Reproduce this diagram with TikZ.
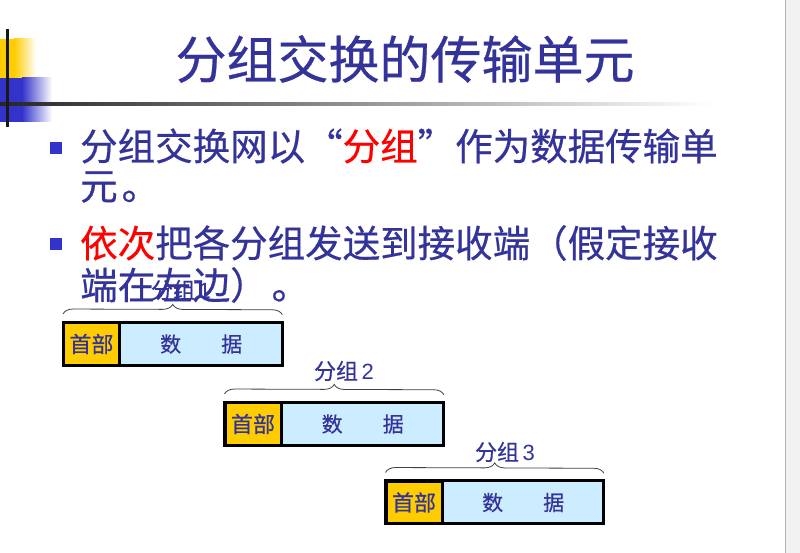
\documentclass[tikz,border=0pt]{standalone}
\usepackage{fontspec}
\setmainfont[FakeBold=0.4]{Noto Sans CJK SC}
\newfontfamily\fwfont[CharacterWidth=Full,FakeBold=0.5]{Noto Sans CJK SC}
\newfontfamily\digfont{Liberation Sans}
\usetikzlibrary{decorations.pathreplacing}
\definecolor{tblue}{HTML}{333399}
\definecolor{bsq}{HTML}{3333CC}
\definecolor{hyel}{HTML}{FFCC00}
\definecolor{dblue}{HTML}{CCECFF}
\begin{document}
\begin{tikzpicture}[x=1pt,y=-1pt,
  titletext/.style={text=tblue, font=\fwfont\fontsize{51}{55}\selectfont, inner sep=0pt},
  bodytext/.style={text=tblue, font=\fwfont\fontsize{37.5}{41}\selectfont, anchor=west, inner sep=0pt},
  bulletsq/.style={fill=bsq, minimum size=12pt, inner sep=0pt},
  hdrbox/.style={draw=black, line width=2pt, fill=hyel, text=tblue, minimum width=55pt, minimum height=42pt, inner sep=0pt, font=\fontsize{22}{24}\selectfont},
  datbox/.style={fill=dblue, text=tblue, minimum height=42pt, inner sep=0pt, font=\fontsize{21}{23}\selectfont, anchor=west},
  pframe/.style={draw=black, line width=3pt},
  pbrace/.style={draw=black!75, line width=0.8pt, decorate, decoration={brace, amplitude=10pt}},
  plabel/.style={text=tblue, font=\fontsize{22}{24}\selectfont, inner sep=0pt}
]
\useasboundingbox (0,0) rectangle (800,553);
\fill[white] (0,0) rectangle (800,553);
% right strip
\fill[black!5] (786,0) rectangle (800,553);
\draw[black!30, line width=1.2pt] (785.5,0) -- (785.5,553);
% top-left decoration
\fill[hyel] (0,39) rectangle (14,78);
\shade[left color=hyel, right color=white] (14,39) rectangle (36,78);
\fill[bsq] (0,78) rectangle (22,122);
\shade[left color=bsq, right color=white] (22,78) rectangle (52,122);
\shade[left color=black!85, middle color=black!55, right color=white] (0,102.5) rectangle (712,105.5);
\fill[black!90] (5.5,29) rectangle (9,127);
% title
\node[titletext] (title) at (405,59) {分组交换的传输单元};
% bullets
\node[bulletsq] (bs1) at (56,148) {};
\node[bulletsq] (bs2) at (56,244) {};
\node[bodytext] (b1a) at (80,146) {分组交换网以“\textcolor{red}{分组}”作为数据传输单};
\node[bodytext] (b1b) at (80,187) {元\hspace{4pt}。};
\node[bodytext] (b2a) at (80,243) {\textcolor{red}{依次}把各分组发送到接收端（假定接收};
\node[bodytext] (b2b) at (80,285) {端在左边）\hspace{4pt}。};
% packet 1
\node[hdrbox] (h1) at (91.5,344) {首部};
\node[datbox, minimum width=162pt] (d1) at (h1.east) {数\hspace{40pt}据};
\draw[pframe] (h1.north west) rectangle (d1.south east);
\draw[line width=2pt] (h1.north east) -- (h1.south east);
\draw[pbrace] ([yshift=8pt]h1.north west) -- ([yshift=8pt]d1.north east);
\node[plabel] (l1) at (181,290) {分组\,{\digfont 1}};
% packet 2
\node[hdrbox] (h2) at (253,424) {首部};
\node[datbox, minimum width=162pt] (d2) at (h2.east) {数\hspace{40pt}据};
\draw[pframe] (h2.north west) rectangle (d2.south east);
\draw[line width=2pt] (h2.north east) -- (h2.south east);
\draw[pbrace] ([yshift=8pt]h2.north west) -- ([yshift=8pt]d2.north east);
\node[plabel] (l2) at (344,371) {分组\,{\digfont 2}};
% packet 3
\node[hdrbox] (h3) at (414,502.5) {首部};
\node[datbox, minimum width=161pt] (d3) at (h3.east) {数\hspace{40pt}据};
\draw[pframe] (h3.north west) rectangle (d3.south east);
\draw[line width=2pt] (h3.north east) -- (h3.south east);
\draw[pbrace] ([yshift=8pt]h3.north west) -- ([yshift=8pt]d3.north east);
\node[plabel] (l3) at (505,452) {分组\,{\digfont 3}};
\end{tikzpicture}
\end{document}
